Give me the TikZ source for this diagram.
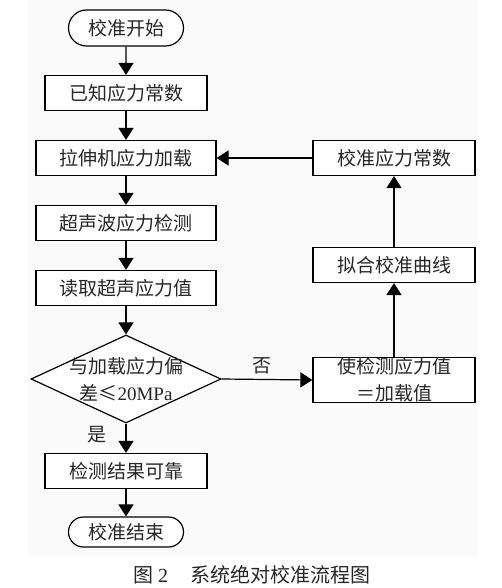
\documentclass[tikz,border=0pt]{standalone}
\usepackage{fontspec}
\setmainfont{Liberation Serif}
\newfontfamily\cjk{Noto Sans CJK SC}
\usetikzlibrary{shapes.geometric,shapes.misc,arrows.meta}

\begin{document}
\begin{tikzpicture}[x=1pt, y=-1pt, line width=1.2pt, >={Triangle[length=12pt,width=15pt]}]
	\useasboundingbox (0,0) rectangle (502,588);
	\fill[black!2] (28,0) rectangle (477,556);
	
	% LEFT COLUMN
	\tikzstyle{every node}=[rectangle, draw=black, fill=white, text=black!85, font=\cjk\fontsize{19}{27}\selectfont, minimum width=162pt, minimum height=35pt, inner sep=0pt]
	\path (126, 28) node[rounded rectangle, minimum width=115pt, minimum height=36pt] (start) {校准开始};
	\path (126, 93) node (known) {已知应力常数};
	\path (126, 158) node[minimum width=180pt] (load) {拉伸机应力加载};
	\path (126, 223) node[minimum width=180pt] (detect) {超声波应力检测};
	\path (126, 288) node[minimum width=180pt] (read) {读取超声应力值};
	\path (126, 379) node[diamond, minimum width=190pt, minimum height=88pt] (check) {};
	\path (check) node[draw=none, fill=none, minimum width=0pt, minimum height=0pt, align=center] (checktext) {与加载应力偏\\差≤{\rmfamily 20MPa}};
	\path (126, 471) node (reliable) {检测结果可靠};
	\path (126, 532) node[rounded rectangle, minimum width=115pt, minimum height=30pt] (stop) {校准结束};
	
	% RIGHT COLUMN
	\path (394, 380) node[minimum height=45pt, align=center] (equal) {使检测应力值\\＝加载值};
	\path (394, 265) node (fit) {拟合校准曲线};
	\path (394, 158) node (calib) {校准应力常数};
	
	% LABELS
	\tikzstyle{every node}=[text=black!85, font=\cjk\fontsize{19}{27}\selectfont, inner sep=0pt]
	\path (262, 366) node (no) {否};
	\path (97, 435) node (yes) {是};
	\path (252, 575) node[font=\cjk\fontsize{20}{24}\selectfont] (caption) {图 {\rmfamily 2}\hspace{1.1em}系统绝对校准流程图};
	
	% ARROWS
	\draw[->] (start) -- (known);
	\draw[->] (known) -- (load);
	\draw[->] (load) -- (detect);
	\draw[->] (detect) -- (read);
	\draw[->] (read) -- (check.north);
	\draw[->] (check.south) -- (reliable);
	\draw[->] (reliable) -- (stop);
	\draw[->] (check.east) -- (equal.west);
	\draw[->] (equal) -- (fit);
	\draw[->] (fit) -- (calib);
	\draw[->] (calib.west) -- (load.east);
\end{tikzpicture}
\end{document}
